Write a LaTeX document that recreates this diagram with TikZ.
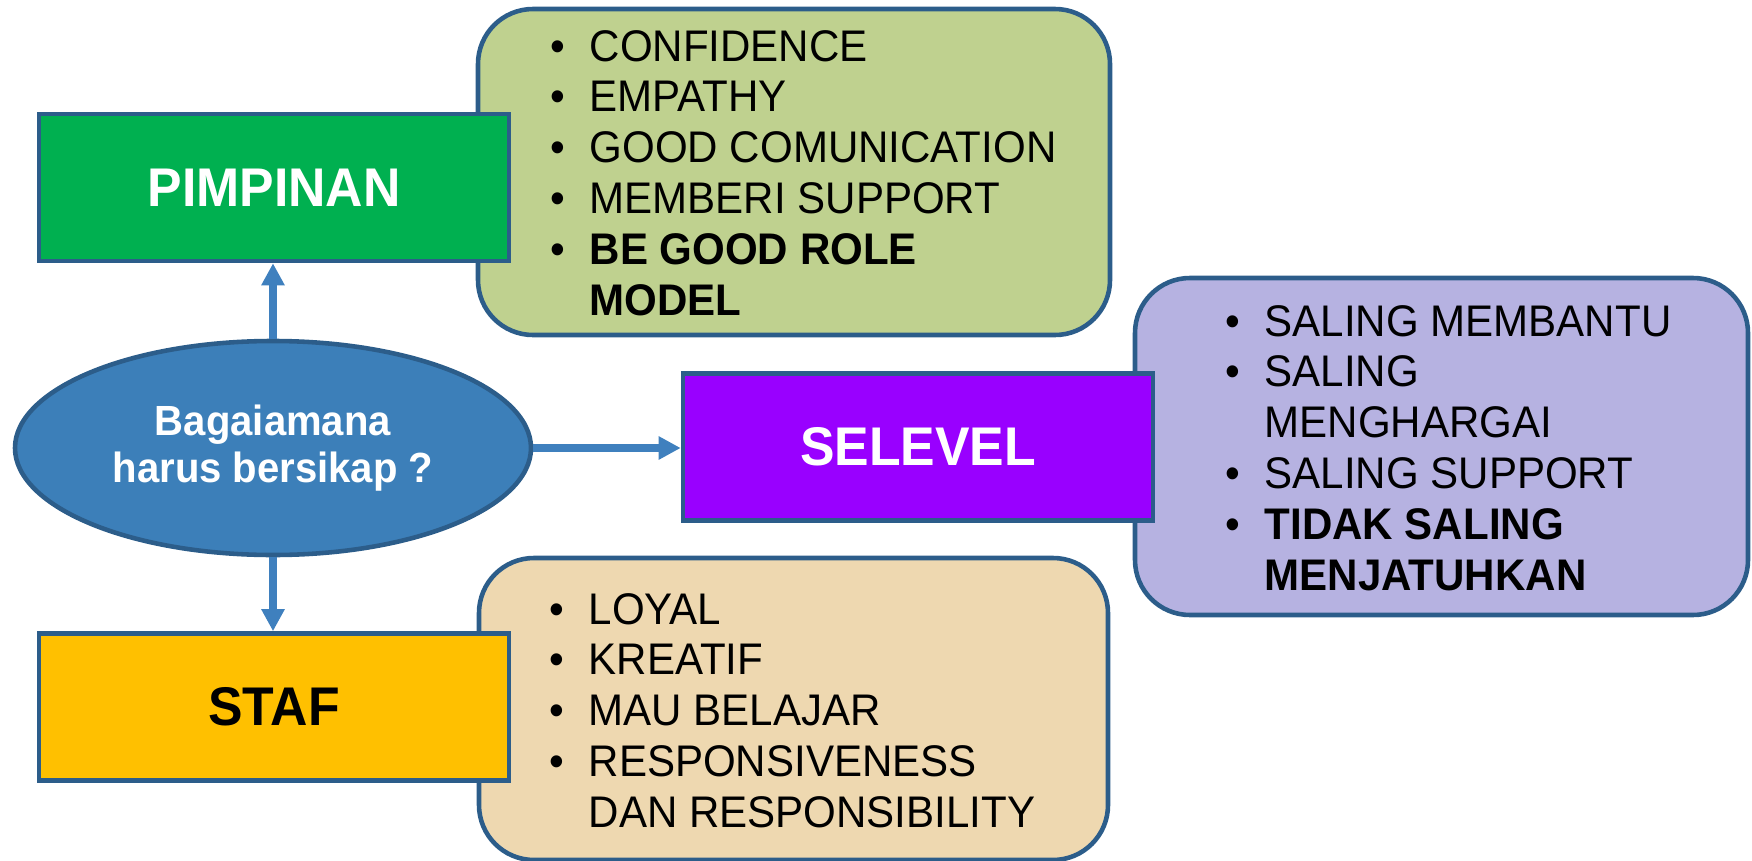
\documentclass[tikz,border=0pt]{standalone}
\usepackage{fontspec}
\setmainfont{Liberation Sans}[FakeStretch=0.95]
\usetikzlibrary{shapes.geometric,arrows.meta}

\definecolor{edgeblue}{HTML}{2C5D8A}
\definecolor{askblue}{HTML}{3C7FB9}
\definecolor{arrowblue}{HTML}{3F80BE}
\definecolor{leadgreen}{HTML}{00B050}
\definecolor{leadlist}{HTML}{BFD18F}
\definecolor{peerpurple}{HTML}{9900FF}
\definecolor{peerlist}{HTML}{B6B2E1}
\definecolor{staffyellow}{HTML}{FFC000}
\definecolor{stafflist}{HTML}{EED8B0}

\begin{document}
\begin{tikzpicture}[x=1cm,y=-1cm,>={Triangle[width=6.3pt,length=6.3pt]},
    role/.style={draw=edgeblue, line width=1.3pt, minimum width=4.70cm, minimum height=1.47cm,
        font=\fontsize{15.5}{18}\selectfont\bfseries},
    listbox/.style={draw=edgeblue, line width=1.3pt, rounded corners=0.55cm},
    listtext/.style={anchor=base west, inner sep=0pt, font=\fontsize{12.6}{14.5}\selectfont},
    link/.style={->, draw=arrowblue, line width=2.1pt}]
        \useasboundingbox (0,0) rectangle (17.52,8.60);

        % List boxes
        \node[listbox, fill=leadlist, minimum width=6.32cm, minimum height=3.26cm] (LeadBox) at (7.94,1.72) {};
        \node[listbox, fill=peerlist, minimum width=6.13cm, minimum height=3.37cm] (PeerBox) at (14.415,4.465) {};
        \node[listbox, fill=stafflist, minimum width=6.29cm, minimum height=3.02cm] (StaffBox) at (7.935,7.09) {};

        % List texts
        \node[listtext] (LeadItems) at (5.50,0.61) {\begin{tabular}[t]{@{}l@{\hspace{6.9pt}}l@{}}
            \textbullet & CONFIDENCE\\
            \textbullet & EMPATHY\\
            \textbullet & GOOD COMUNICATION\\
            \textbullet & MEMBERI SUPPORT\\
            \textbullet & \textbf{BE GOOD ROLE}\\
                        & \textbf{MODEL}
        \end{tabular}};
        \node[listtext] (PeerItems) at (12.25,3.36) {\begin{tabular}[t]{@{}l@{\hspace{6.9pt}}l@{}}
            \textbullet & SALING MEMBANTU\\
            \textbullet & SALING\\
                        & MENGHARGAI\\
            \textbullet & SALING SUPPORT\\
            \textbullet & \textbf{TIDAK SALING}\\
                        & \textbf{MENJATUHKAN}
        \end{tabular}};
        \node[listtext] (StaffItems) at (5.49,6.24) {\begin{tabular}[t]{@{}l@{\hspace{6.9pt}}l@{}}
            \textbullet & LOYAL\\
            \textbullet & KREATIF\\
            \textbullet & MAU BELAJAR\\
            \textbullet & RESPONSIVENESS\\
                        & DAN RESPONSIBILITY
        \end{tabular}};

        % Roles
        \node[role, fill=leadgreen, text=white] (Lead) at (2.74,1.875) {PIMPINAN};
        \node[role, fill=peerpurple, text=white] (Peer) at (9.18,4.47) {SELEVEL};
        \node[role, fill=staffyellow, text=black] (Staff) at (2.74,7.07) {STAF};

        % Question
        \node[ellipse, draw=edgeblue, line width=1.3pt, fill=askblue, text=white,
            minimum width=5.16cm, minimum height=2.14cm, align=center,
            font=\fontsize{12}{13.4}\selectfont\bfseries] (Ask) at (2.73,4.48) {Bagaiamana\\harus bersikap ?};

        % Arrows
        \draw[link] (Ask.north) -- (Ask.north |- Lead.south);
        \draw[link] (Ask.east) -- (Ask.east -| Peer.west);
        \draw[link] (Ask.south) -- (Ask.south |- Staff.north);
    \end{tikzpicture}
\end{document}
